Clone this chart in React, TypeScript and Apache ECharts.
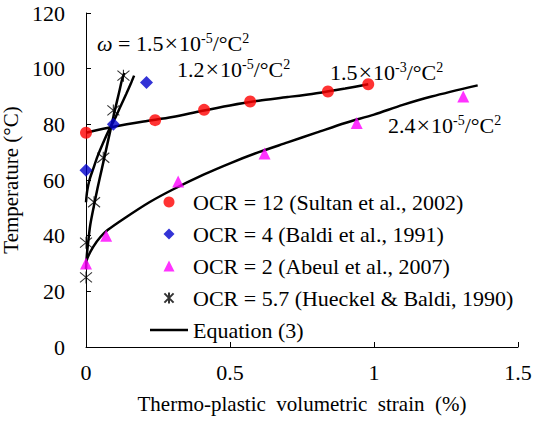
import React, { useEffect, useRef } from "react";
import * as echarts from "echarts";

// Measured data (thermo-plastic volumetric strain %, temperature °C)
const ocr12 = [[0, 77], [0.24, 81.5], [0.41, 85.2], [0.57, 88.2], [0.84, 91.8], [0.98, 94.4]];
const ocr4 = [[0, 63.5], [0.095, 80], [0.21, 95]];
const ocr2 = [[0, 30], [0.07, 40], [0.32, 59.5], [0.62, 69.5], [0.94, 80.5], [1.31, 90]];
const ocr57 = [[0, 25], [0, 37.5], [0.028, 52], [0.06, 68], [0.095, 85], [0.13, 97.5]];

// Equation (3) curves
const eq12 = [[0, 77], [0.1, 79.2], [0.2, 81], [0.3, 82.6], [0.4, 84.8], [0.5, 86.8], [0.6, 88.5], [0.7, 89.8], [0.8, 91.2], [0.9, 92.9], [0.98, 94.4]];
const eq2 = [[0, 30], [0.005, 32], [0.025, 36], [0.05, 39.5], [0.075, 42], [0.13, 46], [0.22, 52], [0.3, 56.5], [0.41, 62], [0.5, 66], [0.6, 70], [0.7, 73.5], [0.8, 77], [0.9, 80.5], [1.0, 83.5], [1.1, 87], [1.2, 90], [1.36, 94]];
const eq4 = [[0, 52], [0.004, 56], [0.012, 60], [0.025, 64], [0.04, 68.5], [0.06, 73.5], [0.08, 78], [0.1, 82], [0.12, 86.5], [0.14, 91], [0.155, 94.5], [0.167, 97.5]];
const eq57 = [[0, 28], [0.003, 33], [0.008, 38], [0.015, 44], [0.028, 51], [0.04, 57], [0.055, 64], [0.07, 71], [0.085, 78], [0.1, 85], [0.115, 91.5], [0.125, 96], [0.133, 98.5]];

const legendNames = [
  "OCR = 12 (Sultan et al., 2002)",
  "OCR = 4 (Baldi et al., 1991)",
  "OCR = 2 (Abeul et al., 2007)",
  "OCR = 5.7 (Hueckel & Baldi, 1990)",
  "Equation (3)",
];

const xTicks = { min: 0, max: 1.5, interval: 0.5 };
const yTicks = { min: 0, max: 120, interval: 20 };

const FONT = "'Liberation Serif', 'Times New Roman', serif";
const CIRCLE = "path://M5,0A5,5,0,1,1,4.999,0Z";
const DIAMOND = "path://M5,0L10,5L5,10L0,5Z";
const TRIANGLE = "path://M5,0L10,10L0,10Z";
const STAR = "path://M0,0L10,10M10,0L0,10M5,-1L5,11";
const LINEICON = "path://M0,0L38,0L38,2.5L0,2.5Z";

export default function App() {
  const ref = useRef<HTMLDivElement>(null);
  useEffect(() => {
    const chart = echarts.init(ref.current!, null, { renderer: "svg" });
    const rich = {
      n: { fontSize: 22, fontFamily: FONT, color: "#000" },
      w: { fontSize: 22, fontFamily: FONT, fontStyle: "italic", color: "#000" },
      x: { fontSize: 24, fontFamily: FONT, color: "#000", padding: [0, 1, 0, 1] },
      s: { fontSize: 14, fontFamily: FONT, color: "#000", verticalAlign: "top" },
    };
    const ann = (x: number, y: number, text: string) => ({
      type: "text",
      x,
      y,
      style: { text, rich, verticalAlign: "middle", align: "left", fill: "#000" },
    });
    const lineSeries = (data: number[][]) => ({
      type: "line",
      name: legendNames[4],
      data,
      smooth: 0.3,
      symbol: "none",
      lineStyle: { color: "#000", width: 2.5 },
      itemStyle: { color: "#000" },
      z: 1,
    });
    chart.setOption({
      animation: false,
      backgroundColor: "#fff",
      textStyle: { fontFamily: FONT },
      grid: { left: 86, right: 16, top: 13, bottom: 74, outerBoundsMode: "none", containLabel: false },
      xAxis: {
        type: "value",
        ...xTicks,
        name: "Thermo-plastic  volumetric  strain  (%)",
        nameLocation: "middle",
        nameGap: 46,
        nameTextStyle: { fontFamily: FONT, fontSize: 21, color: "#000" },
        axisLine: { show: true, lineStyle: { color: "#000", width: 1 } },
        axisTick: { show: true, inside: true, length: 5, lineStyle: { color: "#000" } },
        axisLabel: { fontFamily: FONT, fontSize: 22, color: "#000", margin: 14 },
        splitLine: { show: false },
      },
      yAxis: {
        type: "value",
        ...yTicks,
        name: "Temperature (°C)",
        nameLocation: "middle",
        nameGap: 55,
        nameTextStyle: { fontFamily: FONT, fontSize: 21, color: "#000" },
        axisLine: { show: true, lineStyle: { color: "#000", width: 1 } },
        axisTick: { show: true, inside: true, length: 5, lineStyle: { color: "#000" } },
        axisLabel: { fontFamily: FONT, fontSize: 22, color: "#000", margin: 21 },
        splitLine: { show: false },
      },
      legend: {
        orient: "vertical",
        left: 150,
        top: 191,
        padding: 0,
        itemWidth: 38,
        itemHeight: 11,
        itemGap: 10,
        symbolKeepAspect: true,
        data: [
          { name: legendNames[0], icon: CIRCLE },
          { name: legendNames[1], icon: DIAMOND },
          { name: legendNames[2], icon: TRIANGLE },
          { name: legendNames[3], icon: STAR },
          { name: legendNames[4], icon: LINEICON },
        ],
        textStyle: { fontFamily: FONT, fontSize: 22, color: "#000" },
      },
      series: [
        lineSeries(eq12),
        lineSeries(eq2),
        lineSeries(eq4),
        lineSeries(eq57),
        {
          type: "scatter",
          name: legendNames[0],
          data: ocr12,
          symbol: "circle",
          symbolSize: 12,
          itemStyle: { color: "#FF0000" },
          z: 3,
        },
        {
          type: "scatter",
          name: legendNames[1],
          data: ocr4,
          symbol: "diamond",
          symbolSize: 13,
          itemStyle: { color: "#0000CC" },
          z: 3,
        },
        {
          type: "scatter",
          name: legendNames[2],
          data: ocr2,
          symbol: "triangle",
          symbolSize: 12,
          itemStyle: { color: "#FF00FF" },
          z: 3,
        },
        {
          type: "scatter",
          name: legendNames[3],
          data: ocr57,
          symbol: STAR,
          symbolSize: 12,
          itemStyle: { color: "transparent", borderColor: "#000", borderWidth: 1.1 },
          z: 3,
        },
      ],
      graphic: [
        ann(97, 43, "{w|ω}{n| = 1.5}{x|×}{n|10}{s|-5}{n|/°C}{s|2}"),
        ann(177, 69, "{n|1.2}{x|×}{n|10}{s|-5}{n|/°C}{s|2}"),
        ann(330, 72, "{n|1.5}{x|×}{n|10}{s|-3}{n|/°C}{s|2}"),
        ann(388, 125, "{n|2.4}{x|×}{n|10}{s|-5}{n|/°C}{s|2}"),
      ],
    });
    return () => chart.dispose();
  }, []);
  return (
    <div
      ref={ref}
      style={{ position: "fixed", left: 0, top: 0, width: 534, height: 421 }}
    />
  );
}
